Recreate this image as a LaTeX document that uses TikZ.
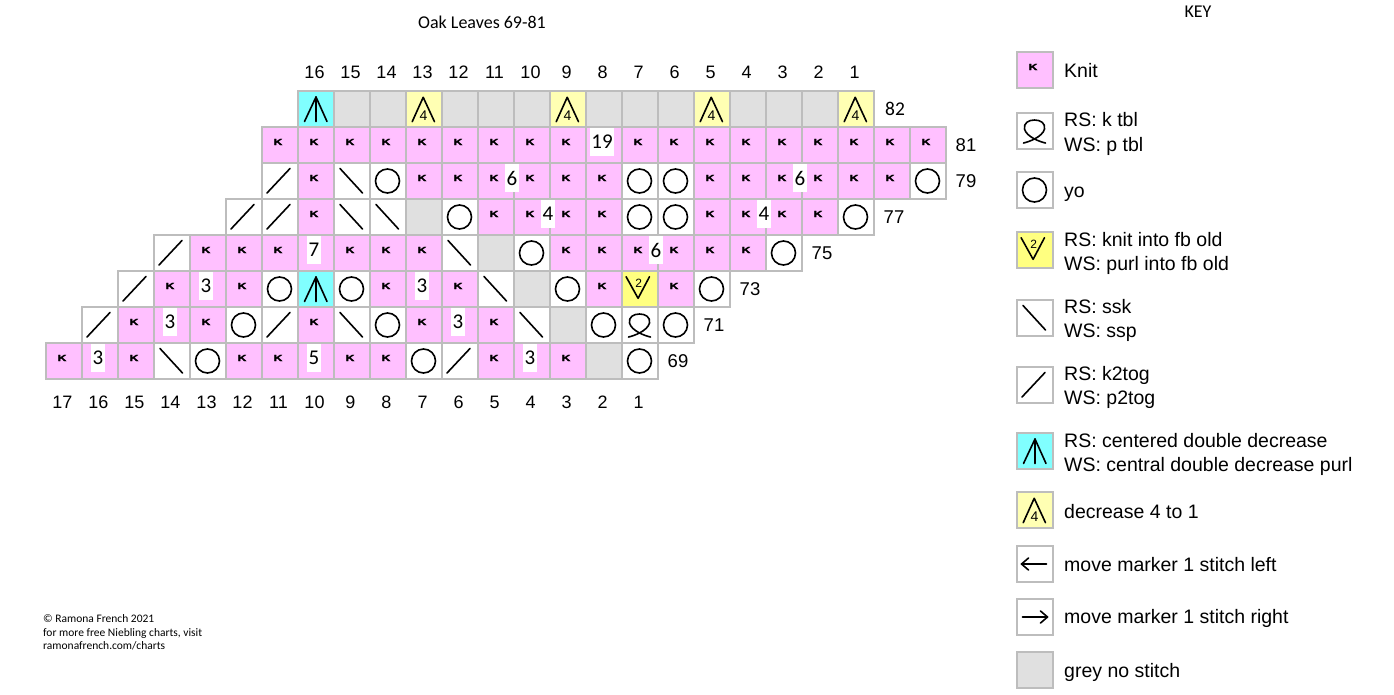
\documentclass[tikz,border=0pt]{standalone}
\usepackage{fontspec}
\setmainfont{Liberation Sans}
\newfontfamily\calfont{Carlito}
\newfontfamily\kfont[FakeBold=2.5]{Liberation Sans}
\definecolor{kpink}{HTML}{FFC0FF}
\definecolor{gridgrey}{HTML}{BDBDBD}
\definecolor{cddcyan}{HTML}{80FFFF}
\definecolor{decyellow}{HTML}{FFFFB3}
\definecolor{fbyellow}{HTML}{FFFF80}
\definecolor{nogrey}{HTML}{E0E0E0}
\tikzset{
  cellbox/.style={draw=gridgrey, line width=2pt},
  symline/.style={line width=1.6pt, line cap=round, line join=round},
  kglyph/.style={inner sep=0pt, font=\kfont\fontsize{10.5}{10.5}\selectfont\bfseries},
  numbox/.style={fill=white, inner xsep=1.5pt, inner ysep=0pt, minimum height=28pt, font=\calfont\fontsize{21}{21}\selectfont},
  collab/.style={inner sep=0pt, font=\fontsize{18}{18}\selectfont},
  rowlab/.style={inner sep=0pt, font=\fontsize{18.5}{18.5}\selectfont},
  keytext/.style={inner sep=0pt, anchor=base west, font=\fontsize{19.5}{19.5}\selectfont},
  smallnum/.style={inner sep=0pt},
  foottext/.style={inner sep=0pt, anchor=base west, font=\calfont\fontsize{11.5}{11.5}\selectfont},
}
\newcommand{\Sym}[4]{%
  \begin{scope}[shift={({#1},{#2})}]
    \csname sym#3\endcsname{#4}
  \end{scope}}
\newcommand{\symK}[1]{\draw[cellbox, fill=kpink] (0,0) rectangle (36,36); \node[kglyph] (#1) at (16.5,15) {\scalebox{1.15}[0.85]{K}};}
\newcommand{\symP}[1]{\draw[cellbox, fill=kpink] (0,0) rectangle (36,36); \coordinate (#1) at (18,18);}
\newcommand{\symO}[1]{\draw[cellbox, fill=white] (0,0) rectangle (36,36); \coordinate (#1) at (18,18); \draw[symline] (#1) circle[radius=12pt];}
\newcommand{\symS}[1]{\draw[cellbox, fill=white] (0,0) rectangle (36,36); \coordinate (#1) at (18,18); \draw[symline] (6.5,5.5) -- (29,30);}
\newcommand{\symT}[1]{\draw[cellbox, fill=white] (0,0) rectangle (36,36); \coordinate (#1) at (18,18); \draw[symline] (5.5,30) -- (28.5,5.5);}
\newcommand{\symG}[1]{\draw[cellbox, fill=nogrey] (0,0) rectangle (36,36); \coordinate (#1) at (18,18);}
\newcommand{\symC}[1]{\draw[cellbox, fill=cddcyan] (0,0) rectangle (36,36); \coordinate (#1) at (18,18);
  \draw[symline] (7,30.5) -- (18.5,6) -- (29.5,30.5); \draw[symline] (18.5,6) -- (18.5,30.5);}
\newcommand{\symD}[1]{\draw[cellbox, fill=decyellow] (0,0) rectangle (36,36);
  \draw[symline] (6.7,30.7) -- (17.7,6.3) -- (29,30.7);
  \node[smallnum, font=\fontsize{14}{14}\selectfont] (#1) at (18,25) {4};}
\newcommand{\symV}[1]{\draw[cellbox, fill=fbyellow] (0,0) rectangle (36,36);
  \draw[symline] (4.6,5.7) -- (16.6,27.3) -- (28,5.7);
  \node[smallnum, font=\fontsize{12}{12}\selectfont] (#1) at (17.3,12) {2};}
\newcommand{\symQ}[1]{\draw[cellbox, fill=white] (0,0) rectangle (36,36); \coordinate (#1) at (18,18);
  \draw[symline] (7,30) .. controls (12,29) and (26,24) .. (28,16) .. controls (29,10) and (24,7) .. (18,7) .. controls (12,7) and (7,10) .. (8,16) .. controls (10,24) and (24,29) .. (29,30);}
\newcommand{\symL}[1]{\draw[cellbox, fill=white] (0,0) rectangle (36,36); \coordinate (#1) at (18,18);
  \draw[symline] (5,18) -- (30,18); \draw[symline] (12,12) -- (5,18) -- (12,24);}
\newcommand{\symR}[1]{\draw[cellbox, fill=white] (0,0) rectangle (36,36); \coordinate (#1) at (18,18);
  \draw[symline] (6,18) -- (31,18); \draw[symline] (24,12) -- (31,18) -- (24,24);}
\begin{document}
\begin{tikzpicture}[x=1pt,y=-1pt]
\useasboundingbox (0,0) rectangle (1394,694);
\fill[white] (0,0) rectangle (1394,694);
% title
\node[inner sep=0pt, font=\calfont\fontsize{18}{18}\selectfont] (title) at (482,22) {Oak Leaves 69-81};
% chart rows
\foreach \t [count=\i from 7] in {C,G,G,D,G,G,G,D,G,G,G,D,G,G,G,D}{\Sym{45.5+36*\i}{91}{\t}{ra-\i}}
\foreach \t [count=\i from 6] in {K,K,K,K,K,K,K,K,K,P,K,K,K,K,K,K,K,K,K}{\Sym{45.5+36*\i}{127}{\t}{rb-\i}}
\foreach \t [count=\i from 6] in {T,K,S,O,K,K,K,K,K,K,O,O,K,K,K,K,K,K,O}{\Sym{45.5+36*\i}{163}{\t}{rc-\i}}
\foreach \t [count=\i from 5] in {T,T,K,S,S,G,O,K,K,K,K,O,O,K,K,K,K,O}{\Sym{45.5+36*\i}{199}{\t}{rd-\i}}
\foreach \t [count=\i from 3] in {T,K,K,K,P,K,K,K,S,G,O,K,K,K,K,K,K,O}{\Sym{45.5+36*\i}{235}{\t}{re-\i}}
\foreach \t [count=\i from 2] in {T,K,P,K,O,C,O,K,P,K,S,G,O,K,V,K,O}{\Sym{45.5+36*\i}{271}{\t}{rf-\i}}
\foreach \t [count=\i from 1] in {T,K,P,K,O,T,K,S,O,K,P,K,S,G,O,Q,O}{\Sym{45.5+36*\i}{307}{\t}{rg-\i}}
\foreach \t [count=\i from 0] in {K,P,K,S,O,K,K,P,K,K,O,T,K,P,K,G,O}{\Sym{45.5+36*\i}{343}{\t}{rh-\i}}
% number boxes
\node[numbox] (n19) at (602,142) {19};
\node[numbox] (n6a) at (512,178) {6};
\node[numbox] (n6b) at (800,178) {6};
\node[numbox] (n4a) at (548,214) {4};
\node[numbox] (n4b) at (764,214) {4};
\node[numbox] (n7) at (314,250) {7};
\node[numbox] (n6c) at (656,250) {6};
\node[numbox] (n3a) at (206,286) {3};
\node[numbox] (n3b) at (422,286) {3};
\node[numbox] (n3c) at (170,322) {3};
\node[numbox] (n3d) at (458,322) {3};
\node[numbox] (n3e) at (98,358) {3};
\node[numbox] (n3f) at (530,358) {3};
\node[numbox] (n5) at (314,358) {5};
% column labels
\foreach \n [count=\i from 7] in {16,15,14,13,12,11,10,9,8,7,6,5,4,3,2,1}{\node[collab] (top-\n) at ({45.5+36*\i+17},72) {\n};}
\foreach \n [count=\i from 0] in {17,16,15,14,13,12,11,10,9,8,7,6,5,4,3,2,1}{\node[collab] (bot-\n) at ({45.5+36*\i+17},402) {\n};}
% row labels
\node[inner sep=0pt, font=\calfont\fontsize{19.5}{19.5}\selectfont] (l82) at (895,109) {82};
\node[rowlab] (l81) at (966,145) {81};
\node[rowlab] (l79) at (966,181) {79};
\node[rowlab] (l77) at (894,217) {77};
\node[rowlab] (l75) at (822,253) {75};
\node[rowlab] (l73) at (750,289) {73};
\node[rowlab] (l71) at (714,325) {71};
\node[rowlab] (l69) at (678,361) {69};
% key
\node[inner sep=0pt, font=\calfont\fontsize{18}{18}\selectfont] (key) at (1198,12) {KEY};
\Sym{1016.5}{52}{K}{kk}
\node[keytext] (tk) at (1064,77) {Knit};
\Sym{1016.5}{113}{Q}{kq}
\node[keytext] (tq1) at (1064,126.5) {RS: k tbl};
\node[keytext] (tq2) at (1064,151) {WS: p tbl};
\Sym{1016.5}{172}{O}{ko}
\node[keytext] (to) at (1064,197) {yo};
\Sym{1016.5}{232}{V}{kv}
\node[keytext] (tv1) at (1064,246) {RS: knit into fb old};
\node[keytext] (tv2) at (1064,270) {WS: purl into fb old};
\Sym{1016.5}{300}{S}{ks}
\node[keytext] (ts1) at (1064,313) {RS: ssk};
\node[keytext] (ts2) at (1064,337) {WS: ssp};
\Sym{1016.5}{367}{T}{kt}
\node[keytext] (tt1) at (1064,380) {RS: k2tog};
\node[keytext] (tt2) at (1064,404) {WS: p2tog};
\Sym{1016.5}{433}{C}{kc}
\node[keytext] (tc1) at (1064,447.5) {RS: centered double decrease};
\node[keytext] (tc2) at (1064,471.5) {WS: central double decrease purl};
\Sym{1016.5}{492}{D}{kd}
\node[keytext] (td) at (1064,518) {decrease 4 to 1};
\Sym{1016.5}{546}{L}{kl}
\node[keytext] (tl) at (1064,571) {move marker 1 stitch left};
\Sym{1016.5}{599}{R}{kr}
\node[keytext] (tr) at (1064,623.5) {move marker 1 stitch right};
\Sym{1016.5}{652}{G}{kg}
\node[keytext] (tg) at (1064,677) {grey no stitch};
% footer
\node[foottext] (f1) at (43,622) {© Ramona French 2021};
\node[foottext] (f2) at (43,636.5) {for more free Niebling charts, visit};
\node[foottext] (f3) at (43,649.5) {ramonafrench.com/charts};
\end{tikzpicture}
\end{document}
